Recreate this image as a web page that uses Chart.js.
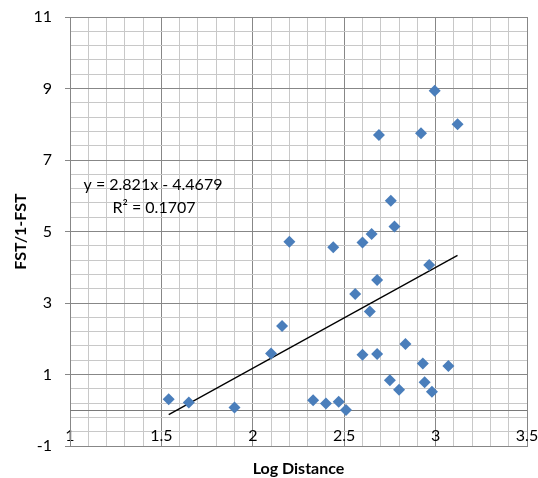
<!DOCTYPE html>
<html>
<head>
<meta charset="utf-8">
<script src="https://cdn.jsdelivr.net/npm/chart.js@4/dist/chart.umd.min.js"></script>
<style>
  html, body { margin: 0; padding: 0; background: #fff; }
  #wrap { width: 538px; height: 478px; }
</style>
</head>
<body>
<div id="wrap"><canvas id="chart"></canvas></div>
<script>
// values
var logDistance = [1.54, 1.65, 1.90, 2.10, 2.16, 2.20, 2.33, 2.40, 2.47, 2.51, 2.44, 2.56, 2.60, 2.60, 2.64, 2.65,
                   2.68, 2.68, 2.69, 2.75, 2.755, 2.775, 2.80, 2.835, 2.92, 2.93, 2.94, 2.965, 2.98, 2.995, 3.07, 3.12];
var fstRatio    = [0.31, 0.22, 0.08, 1.59, 2.36, 4.71, 0.28, 0.19, 0.24, 0.01, 4.56, 3.25, 4.69, 1.55, 2.76, 4.93,
                   3.64, 1.57, 7.70, 0.84, 5.86, 5.14, 0.57, 1.85, 7.75, 1.31, 0.78, 4.06, 0.52, 8.94, 1.24, 8.00];

var trendSlope = 2.821;
var trendIntercept = -4.4679;
var trendLabel = ["y = 2.821x - 4.4679", "R\u00b2 = 0.1707"];

var xMin = 1, xMax = 3.5, xMinor = 0.1, xMajor = 0.5;
var yMin = -1, yMax = 11, yMinor = 0.4;

var majorGrid = "#878787";
var minorGrid = "#c8c8c8";
var FONT = "Lato, 'Open Sans', sans-serif";

var points = logDistance.map(function (x, i) { return { x: x, y: fstRatio[i] }; });
var x0 = Math.min.apply(null, logDistance), x1 = Math.max.apply(null, logDistance);
var trend = [{ x: x0, y: trendSlope * x0 + trendIntercept }, { x: x1, y: trendSlope * x1 + trendIntercept }];

function near(a, b) { return Math.abs(a - b) < 1e-6; }
function isXMajor(v) { var k = (v - xMin) / xMajor; return near(k, Math.round(k)); }
function isYMajor(v) { return near(v, Math.round(v)) && Math.round(v) % 2 !== 0; }

var zeroLine = {
  id: "zeroLine",
  beforeDatasetsDraw: function (chart) {
    var ctx = chart.ctx, a = chart.chartArea;
    var y = Math.round(chart.scales.y.getPixelForValue(0)) + 0.5;
    ctx.save();
    ctx.strokeStyle = "#7a7a7a";
    ctx.lineWidth = 1;
    ctx.beginPath();
    ctx.moveTo(a.left, y);
    ctx.lineTo(a.right, y);
    ctx.stroke();
    ctx.restore();
  }
};

var trendText = {
  id: "trendText",
  afterDatasetsDraw: function (chart) {
    var ctx = chart.ctx, a = chart.chartArea;
    ctx.save();
    ctx.font = "16px " + FONT;
    ctx.fillStyle = "#000";
    ctx.textAlign = "center";
    ctx.textBaseline = "middle";
    ctx.fillText(trendLabel[0], a.left + 83, 185);
    ctx.fillText(trendLabel[1], a.left + 84, 208);
    ctx.restore();
  }
};

new Chart(document.getElementById("chart"), {
  type: "scatter",
  data: {
    datasets: [
      {
        label: "FST/1-FST",
        data: points,
        pointStyle: "rectRot",
        pointRadius: 6,
        pointHoverRadius: 6,
        pointBorderWidth: 0,
        backgroundColor: "#4a7ebb",
        borderColor: "#4a7ebb"
      },
      {
        type: "line",
        label: "Linear",
        data: trend,
        showLine: true,
        pointRadius: 0,
        borderColor: "#000",
        borderWidth: 1.3,
        fill: false
      }
    ]
  },
  options: {
    responsive: true,
    maintainAspectRatio: false,
    animation: false,
    layout: { padding: { top: 17, right: 11, bottom: 0, left: 0 } },
    plugins: { legend: { display: false }, tooltip: { enabled: false } },
    scales: {
      x: {
        type: "linear",
        min: xMin,
        max: xMax,
        afterBuildTicks: function (scale) {
          var t = [];
          for (var i = 0; i <= Math.round((xMax - xMin) / xMinor); i++) {
            t.push({ value: Math.round((xMin + i * xMinor) * 100) / 100 });
          }
          scale.ticks = t;
        },
        afterFit: function (scale) {
          scale.height = 32;
          scale.paddingLeft = 0;
          scale.paddingRight = 0;
        },
        grid: {
          drawTicks: false,
          color: function (c) { return isXMajor(c.tick.value) ? majorGrid : minorGrid; }
        },
        border: { color: majorGrid },
        ticks: {
          autoSkip: false,
          maxRotation: 0,
          mirror: true,
          padding: 1,
          color: "#000",
          font: { family: FONT, size: 16 },
          callback: function (v) { return isXMajor(v) ? String(Math.round(v * 10) / 10) : ""; }
        },
        title: {
          display: true,
          text: "Log Distance",
          color: "#000",
          font: { family: FONT, size: 16, weight: "bold" },
          padding: { top: 4, bottom: 0 }
        }
      },
      y: {
        type: "linear",
        min: yMin,
        max: yMax,
        afterBuildTicks: function (scale) {
          var t = [];
          for (var i = 0; i <= Math.round((yMax - yMin) / yMinor); i++) {
            t.push({ value: Math.round((yMin + i * yMinor) * 100) / 100 });
          }
          scale.ticks = t;
        },
        afterFit: function (scale) {
          scale.width = 70;
          scale.paddingTop = 0;
          scale.paddingBottom = 0;
        },
        grid: {
          tickLength: 5,
          color: function (c) { return isYMajor(c.tick.value) ? majorGrid : minorGrid; },
          tickColor: function (c) { return isYMajor(c.tick.value) ? majorGrid : "rgba(0,0,0,0)"; }
        },
        border: { color: majorGrid },
        ticks: {
          autoSkip: false,
          padding: 13,
          color: "#000",
          font: { family: FONT, size: 16 },
          callback: function (v) { return isYMajor(v) ? String(Math.round(v)) : ""; }
        },
        title: {
          display: true,
          text: "FST/1-FST",
          color: "#000",
          font: { family: FONT, size: 16, weight: "bold" },
          padding: { top: 11, bottom: 0 }
        }
      }
    }
  },
  plugins: [zeroLine, trendText]
});
</script>
</body>
</html>
